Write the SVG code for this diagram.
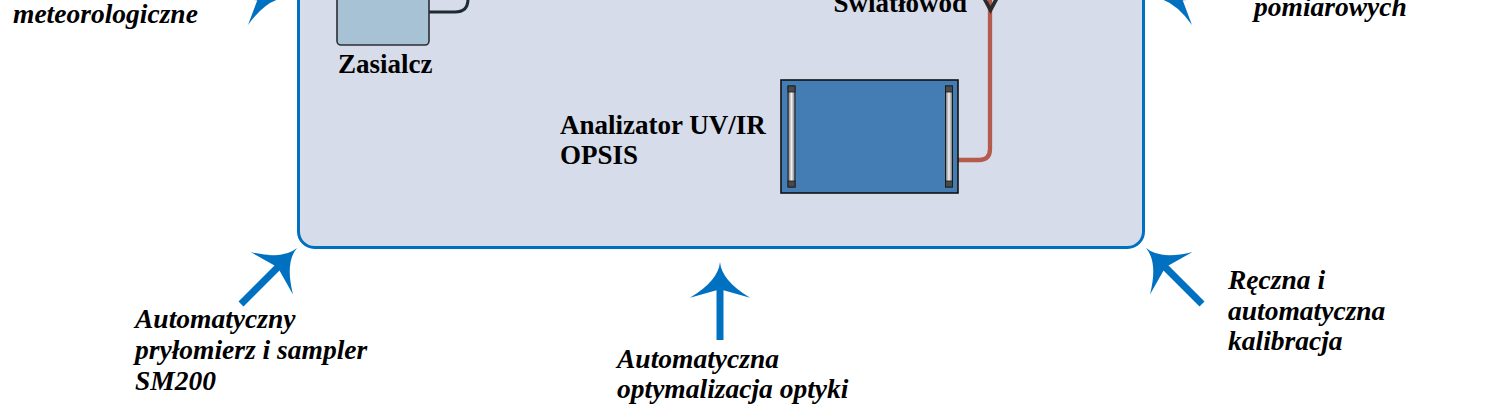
<svg xmlns="http://www.w3.org/2000/svg" xmlns:xlink="http://www.w3.org/1999/xlink" width="1497" height="414" viewBox="0 0 1497 414">
  <style>
    .lbl { font-family: "Liberation Serif", "Times New Roman", serif; font-size: 27px; font-weight: bold; fill: #000; }
    .it { font-family: "Liberation Serif", "Times New Roman", serif; font-size: 27.5px; font-weight: bold; font-style: italic; fill: #000; }
    .shaft { stroke: #0070C0; stroke-width: 7; fill: none; }
    .head { fill: #0070C0; }
    .handle { fill: url(#hg); stroke: #1a1a1a; stroke-width: 1; }
    .cap { fill: #4a4a4a; stroke: #1a1a1a; stroke-width: 0.8; }
  </style>
  <defs>
    <path id="ahead" d="M0,0 Q-18.75,1.6 -35.7,30 L-28.3,3.5 L-28.3,-3.5 L-35.7,-30 Q-18.75,-1.6 0,0 Z"/>
    <linearGradient id="hg" x1="0" y1="0" x2="1" y2="0">
      <stop offset="0" stop-color="#6e6e6e"/>
      <stop offset="0.5" stop-color="#f0f0f0"/>
      <stop offset="1" stop-color="#6e6e6e"/>
    </linearGradient>
  </defs>
  <rect width="1497" height="414" fill="#ffffff"/>

  <g id="system-box">
    <rect x="298.5" y="-60" width="845" height="307.5" rx="16" ry="16" fill="#D6DCE9" stroke="#0070C0" stroke-width="3"/>
  </g>

  <g id="connectors">
    <path d="M429,12 H455 Q468,12 468,-1 V-20" fill="none" stroke="#1E2A32" stroke-width="3"/>
    <path d="M958,160 H979 Q990,160 990,149 V-5" fill="none" stroke="#B65A4E" stroke-width="4.3"/>
    <polyline points="983.5,-3 990.5,10 997.5,-3" fill="none" stroke="#2a2a2a" stroke-width="3.8" stroke-linejoin="miter"/>
  </g>

  <g id="zasilacz">
    <rect x="337" y="-20" width="92" height="65" rx="4" ry="4" fill="#A6C2D4" stroke="#2A2E33" stroke-width="1.6"/>
    <text class="lbl" x="338" y="73">Zasialcz</text>
  </g>

  <g id="swiatlowod">
    <text class="lbl" x="967" y="12" text-anchor="end">Światłowód</text>
  </g>

  <g id="analizator">
    <rect x="781" y="80" width="177" height="113" fill="#437DB4" stroke="#111111" stroke-width="1.6"/>
    <rect class="handle" x="788" y="86" width="7" height="101"/>
    <rect class="cap" x="788" y="86" width="7" height="6"/>
    <rect class="cap" x="788" y="181" width="7" height="6"/>
    <rect class="handle" x="945.5" y="86" width="7" height="101"/>
    <rect class="cap" x="945.5" y="86" width="7" height="6"/>
    <rect class="cap" x="945.5" y="181" width="7" height="6"/>
    <text class="lbl" x="560" y="134">Analizator UV/IR</text>
    <text class="lbl" x="560" y="164">OPSIS</text>
  </g>

  <g id="arrows">
    <line class="shaft" x1="190" y1="-9" x2="259" y2="-3"/>
    <use xlink:href="#ahead" class="head" transform="translate(286.2,-1.8) rotate(5)"/>
    <line class="shaft" x1="1250" y1="-9" x2="1181" y2="-3"/>
    <use xlink:href="#ahead" class="head" transform="translate(1153.8,-1.8) rotate(175)"/>
    <line class="shaft" x1="241" y1="304" x2="279" y2="266"/>
    <use xlink:href="#ahead" class="head" transform="translate(297,248) rotate(-45)"/>
    <line class="shaft" x1="720" y1="340" x2="720" y2="288"/>
    <use xlink:href="#ahead" class="head" transform="translate(720,262) rotate(-90)"/>
    <line class="shaft" x1="1202" y1="304" x2="1164" y2="266"/>
    <use xlink:href="#ahead" class="head" transform="translate(1146,248) rotate(-135)"/>
  </g>

  <g id="label-meteo">
    <text class="it" x="13" y="23">meteorologiczne</text>
  </g>
  <g id="label-pomiarowych">
    <text class="it" x="1254" y="16">pomiarowych</text>
  </g>
  <g id="label-pylomierz">
    <text class="it" x="135" y="328">Automatyczny</text>
    <text class="it" x="135" y="359">pryłomierz i sampler</text>
    <text class="it" x="135" y="390">SM200</text>
  </g>
  <g id="label-optyka">
    <text class="it" x="617" y="368">Automatyczna</text>
    <text class="it" x="617" y="398">optymalizacja optyki</text>
  </g>
  <g id="label-kalibracja">
    <text class="it" x="1228" y="289">Ręczna i</text>
    <text class="it" x="1228" y="320">automatyczna</text>
    <text class="it" x="1228" y="350">kalibracja</text>
  </g>
</svg>
